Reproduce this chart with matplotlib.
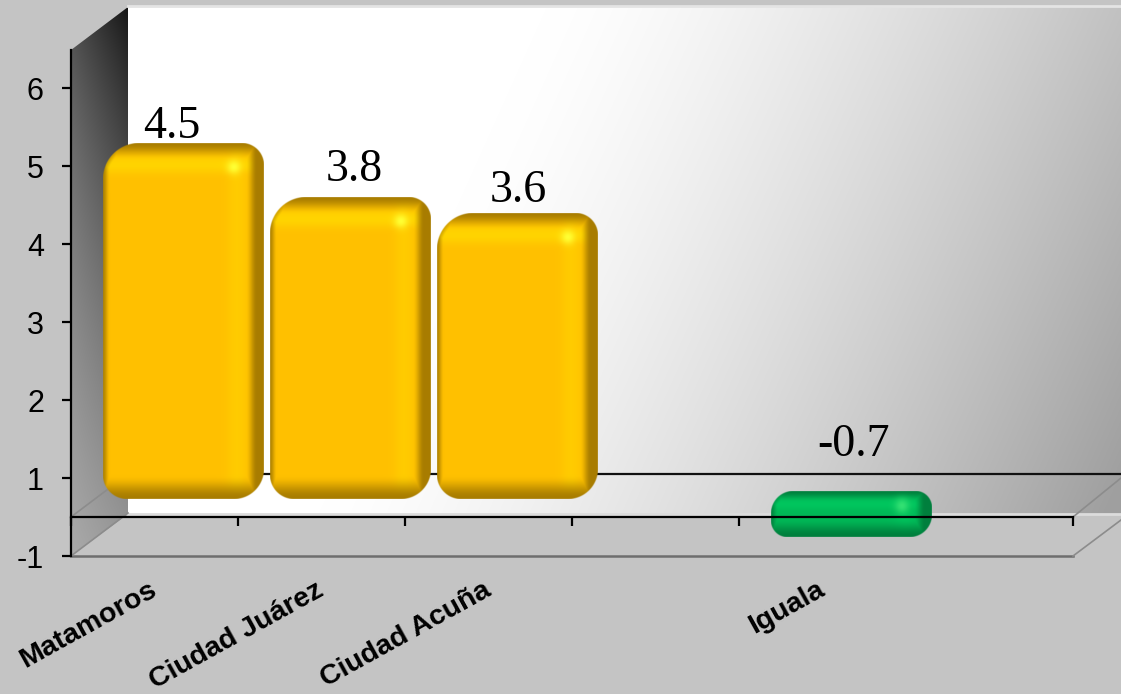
import matplotlib
matplotlib.use("Agg")
import matplotlib.pyplot as plt
import numpy as np
from matplotlib.patches import Polygon
from matplotlib.transforms import ScaledTranslation

# data
categories = ["Matamoros", "Ciudad Juárez", "Ciudad Acuña", "", "Iguala", ""]
values = [4.5, 3.8, 3.6, None, -0.7, None]
value_labels = ["4.5", "3.8", "3.6", "", "-0.7", ""]
ytick_values = [-1, 1, 2, 3, 4, 5, 6]
ytick_labels = ["-1", "1", "2", "3", "4", "5", "6"]

# label shift in pixels from the bar top (dx from slot centre, dy up)
label_dx = [17, 33, 30, 0, 31, 0]
label_dy = [5, 17, 11, 0, 36, 0]

W, H = 1121, 694
BG = "#c4c4c4"
SLOT = 167.0    # px per category
UNIT = 39.0     # px per axis step
DEPTH_X = 57.0
DEPTH_Y = 43.0
AX_L, AX_R, AX_T, AX_B = 71, 1073, 50, 556


def ypos(v):
    # the axis is stretched above 1, one unit is twice as tall there
    return v if v <= 1 else 1 + 2 * (v - 1)


def px_x(dx):
    return dx / SLOT


def px_y(dy):
    return dy / UNIT


def smooth(a, b, x):
    t = np.clip((x - a) / (b - a), 0, 1)
    return t * t * (3 - 2 * t)


def rounded_sdf(u, v, w, h, r_tl, r_tr, r_bl, r_br):
    px = u - w / 2
    py = v - h / 2
    r = np.where(px < 0, np.where(py < 0, r_tl, r_bl), np.where(py < 0, r_tr, r_br))
    qx = np.abs(px) - w / 2 + r
    qy = np.abs(py) - h / 2 + r
    return np.minimum(np.maximum(qx, qy), 0) + np.hypot(np.maximum(qx, 0), np.maximum(qy, 0)) - r


def bar_image(w, h, main, dark, light, hot, radii, top_band):
    w = int(w)
    h = int(h)
    v, u = np.mgrid[0:h * 2, 0:w * 2]
    u = (u + 0.5) / 2
    v = (v + 0.5) / 2
    d = rounded_sdf(u, v, w, h, *radii)
    main = np.array(main, float)
    dark = np.array(dark, float)
    light = np.array(light, float)
    hot = np.array(hot, float)
    img = np.ones(u.shape + (3,)) * main
    # soft light stripes along top and right
    glow = np.exp(-((v - top_band * 0.72) / (top_band * 0.3)) ** 2) * 0.9
    glow = np.maximum(glow, np.exp(-((u - (w - 27)) / 10.0) ** 2) * 0.5)
    img = img + (light - img) * glow[..., None]
    # darker bevel around the edge
    shade = np.zeros(u.shape)
    shade = np.maximum(shade, 1 - smooth(0, top_band * 0.55, v))
    shade = np.maximum(shade, smooth(w - 18, w - 7, u))
    shade = np.maximum(shade, smooth(h - min(24, h * 0.4), h - 1, v))
    shade = np.maximum(shade, 0.9 * (1 - smooth(0, 7, u)))
    shade = np.maximum(shade, 0.5 * (1 - smooth(0, 5, -d)))
    img = img + (dark - img) * shade[..., None]
    # highlight near top right corner
    spot = np.exp(-(((u - (w - 30)) ** 2 + (v - top_band * 0.8) ** 2) / 50.0))
    img = img + (hot - img) * spot[..., None]
    alpha = np.clip(0.5 - d, 0, 1)
    return np.dstack([img, alpha])


fig = plt.figure(figsize=(W / 100, H / 100), dpi=100, facecolor=BG)
ax = fig.add_axes([AX_L / W, 1 - AX_B / H, (AX_R - AX_L) / W, (AX_B - AX_T) / H])
ax.set_facecolor("none")
xmin, xmax = -0.5, len(categories) - 0.5
ymin = -1
ymax = ymin + (AX_B - AX_T) / UNIT
xd = px_x(DEPTH_X)
yd = px_y(DEPTH_Y)

# back wall gradient
yy, xx = np.mgrid[6:514, 128:1121]
s = np.clip((xx - 550 + yy * 0.45) / 783.0, 0, 1) ** 1.4
grey = (255 - 95 * s) / 255.0
wall_top = ymin + (AX_B - 6) / UNIT
wall_bot = ymin + (AX_B - 514) / UNIT
wall_right = xmax + px_x(48)
wall = ax.imshow(np.dstack([grey, grey, grey]), extent=(xmin + xd, wall_right, wall_bot, wall_top),
                 origin="upper", aspect="auto", zorder=0.5)
wall.set_clip_on(False)
ax.plot([xmin + xd, wall_right], [wall_top, wall_top], color="#e4e4e4", lw=2, clip_on=False, zorder=0.6)
ax.plot([xmin + xd, wall_right], [wall_bot, wall_bot], color="#dcdcdc", lw=2, clip_on=False, zorder=0.6)

# left side wall
yy, xx = np.mgrid[0:560, 0:60]
t = yy / 520.0
grey = np.clip(0.07 + 0.5 * t ** 0.75 + 0.2 * (1 - xx / 60.0) * (1 - t * 0.6), 0, 0.68)
side = ax.imshow(np.dstack([grey, grey, grey]), extent=(xmin, xmin + xd, ymin, wall_top),
                 origin="upper", aspect="auto", zorder=0.5)
side_poly = Polygon([(xmin, ymax), (xmin + xd, ymax + yd), (xmin + xd, wall_bot), (xmin, ymin)],
                    closed=True, transform=ax.transData, facecolor="none", edgecolor="none",
                    clip_on=False)
ax.add_patch(side_poly)
side.set_clip_box(fig.bbox)
side.set_clip_path(side_poly)

# zero plane and floor edges
ax.plot([xmin + xd, wall_right], [yd, yd], color="#111111", lw=1.6, clip_on=False, zorder=1)
ax.plot([xmin, xmax], [ymin, ymin], color="#6e6e6e", lw=1.8, clip_on=False, zorder=1)
ax.plot([xmin, xmin + xd], [0, yd], color="#8c8c8c", lw=1.2, zorder=1, clip_on=False)
ax.plot([xmin, xmin + xd], [ymin, ymin + yd], color="#8c8c8c", lw=1.2, zorder=1, clip_on=False)
ax.plot([xmax, wall_right], [0, px_y(39)], color="#8c8c8c", lw=1.2, zorder=1, clip_on=False)
ax.plot([xmax, wall_right], [ymin, ymin + px_y(36)], color="#8c8c8c", lw=1.2, zorder=1, clip_on=False)

# bars
GOLD = dict(main=(1, 0.753, 0), dark=(0.66, 0.49, 0), light=(1, 0.84, 0), hot=(1, 1, 0.2))
GREEN = dict(main=(0, 0.72, 0.34), dark=(0, 0.50, 0.24), light=(0, 0.78, 0.37), hot=(0.2, 0.88, 0.45))
for i, val in enumerate(values):
    if val is None:
        continue
    left = i - 0.5 + px_x(32)
    right = left + px_x(161)
    if val >= 0:
        low = px_y(18)
        high = ypos(val) + px_y(62)
        style = GOLD
        radii = (36, 22, 24, 30)
        band = 30
    else:
        low = val + px_y(7)
        high = px_y(25)
        style = GREEN
        radii = (22, 16, 16, 22)
        band = 18
    h_px = (high - low) * UNIT
    im = ax.imshow(bar_image(161, h_px, radii=radii, top_band=band, **style),
                   extent=(left, right, low, high), origin="upper", aspect="auto",
                   interpolation="antialiased", zorder=2)
    im.set_clip_on(False)
    ax.text(i + px_x(label_dx[i]), high + px_y(label_dy[i]), value_labels[i], ha="center", va="baseline",
            fontsize=33, family="Liberation Serif", color="black", zorder=4, clip_on=False)

ax.set_xlim(xmin, xmax)
ax.set_ylim(ymin, ymax)

# axes
for name in ["top", "right"]:
    ax.spines[name].set_visible(False)
ax.spines["left"].set_linewidth(1.6)
ax.spines["bottom"].set_position(("data", 0))
ax.spines["bottom"].set_linewidth(1.6)
ax.set_yticks([ypos(v) for v in ytick_values])
ax.set_yticklabels(ytick_labels, family="Liberation Sans", fontsize=22)
ax.tick_params(axis="y", length=6.5, width=1.6, pad=13)
ax.set_xticks(range(len(categories)))
ax.set_xticklabels(categories, family="Liberation Sans", fontsize=20.5, fontweight="bold",
                   rotation=29, ha="right", va="top", rotation_mode="anchor")
ax.set_xticks(np.arange(xmin, xmax + 0.5), minor=True)
ax.tick_params(axis="x", which="major", length=0, pad=43)
ax.tick_params(axis="x", which="minor", length=6.5, width=1.6)
shift = ScaledTranslation(-6 / 100, 0, fig.dpi_scale_trans)
for lab in ax.get_xticklabels():
    lab.set_transform(lab.get_transform() + shift)

fig.savefig("out.png", dpi=100, facecolor=BG)
